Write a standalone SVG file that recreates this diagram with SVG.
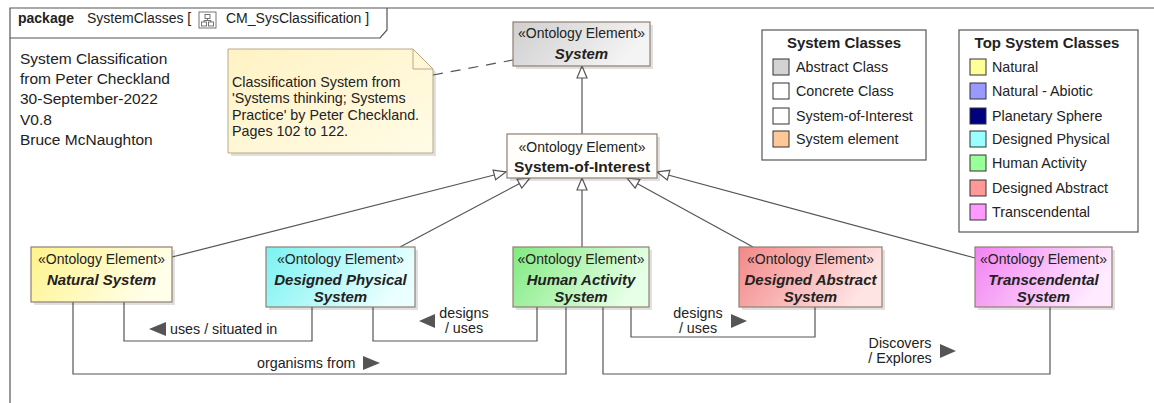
<svg xmlns="http://www.w3.org/2000/svg" width="1154" height="403" viewBox="0 0 1154 403">
<defs>
<style>
text{font-family:"Liberation Sans",Arial,sans-serif;fill:#222}
.hdr{font-size:14px}
.lt{font-size:15.5px}
.nt{font-size:14.3px}
.st{font-size:14px;text-anchor:middle}
.nm{font-size:15px;font-weight:bold;font-style:italic;text-anchor:middle}
.lg{font-size:14.3px}
.lgt{font-size:15px;font-weight:bold;text-anchor:middle}
.lb{font-size:14.3px}
.node{stroke:#8f7f70;stroke-width:1.2}
.shadow{fill:#000;opacity:0.12}
.edge{fill:none;stroke:#555;stroke-width:1.2}
.sw{stroke:#333;stroke-width:1}
.tri{fill:#555}
</style>
<linearGradient id="gSys" x1="0" y1="0" x2="1" y2="0.3"><stop offset="0" stop-color="#cfcfcf"/><stop offset="1" stop-color="#f4f4f4"/></linearGradient>
<linearGradient id="gNat" x1="0" y1="0" x2="1" y2="0.3"><stop offset="0" stop-color="#fff38a"/><stop offset="1" stop-color="#ffffea"/></linearGradient>
<linearGradient id="gDP" x1="0" y1="0" x2="1" y2="0.3"><stop offset="0" stop-color="#7af2f2"/><stop offset="1" stop-color="#eaffff"/></linearGradient>
<linearGradient id="gHA" x1="0" y1="0" x2="1" y2="0.3"><stop offset="0" stop-color="#80ea80"/><stop offset="1" stop-color="#e6ffe6"/></linearGradient>
<linearGradient id="gDA" x1="0" y1="0" x2="1" y2="0.3"><stop offset="0" stop-color="#f38888"/><stop offset="1" stop-color="#ffe4e4"/></linearGradient>
<linearGradient id="gTr" x1="0" y1="0" x2="1" y2="0.3"><stop offset="0" stop-color="#f282f2"/><stop offset="1" stop-color="#ffeaff"/></linearGradient>
<linearGradient id="gNote" x1="0" y1="0" x2="1" y2="1"><stop offset="0" stop-color="#fff3c4"/><stop offset="1" stop-color="#fffbe6"/></linearGradient>
<marker id="gen" viewBox="0 0 14 12" refX="13" refY="6" markerWidth="14" markerHeight="12" markerUnits="userSpaceOnUse" orient="auto">
<path d="M1,1 L13,6 L1,11 Z" fill="#fff" stroke="#555" stroke-width="1.2"/>
</marker>
</defs>
<rect width="1154" height="403" fill="#fff"/>

<g id="frame">
<path d="M10,403 V8 H1154" fill="none" stroke="#555" stroke-width="1.2"/>
<path d="M10,38 H380 L387,30 V8" fill="none" stroke="#555" stroke-width="1.2"/>
<text x="18" y="23" class="hdr" font-weight="bold">package</text>
<text x="87" y="23" class="hdr">SystemClasses [</text>
<g id="icon" fill="#fff" stroke="#666" stroke-width="0.9">
<rect x="199" y="12" width="17" height="16"/>
<rect x="205" y="14.5" width="5" height="4"/>
<rect x="201.5" y="22" width="5" height="4"/>
<rect x="208.5" y="22" width="5" height="4"/>
<path d="M207.5,18.5 V20.5 M204,22 V20.5 H211 V22" fill="none"/>
</g>
<text x="226" y="23" class="hdr">CM_SysClassification ]</text>
</g>

<g id="info">
<text class="lt" x="20" y="64">System Classification</text>
<text class="lt" x="20" y="84">from Peter Checkland</text>
<text class="lt" x="20" y="104">30-September-2022</text>
<text class="lt" x="20" y="124.5">V0.8</text>
<text class="lt" x="20" y="144.5">Bruce McNaughton</text>
</g>

<g id="note">
<path class="shadow" d="M231,52 H416 L436,72 V156 H231 Z"/>
<path d="M228,49 H413 L433,69 V153 H228 Z" fill="url(#gNote)" stroke="#b8a888" stroke-width="1"/>
<path d="M413,49 V69 H433" fill="none" stroke="#b8a888" stroke-width="1"/>
<text class="nt" x="232" y="87">Classification System from</text>
<text class="nt" x="232" y="103">'Systems thinking; Systems</text>
<text class="nt" x="232" y="120">Practice' by Peter Checkland.</text>
<text class="nt" x="232" y="135.5">Pages 102 to 122.</text>
</g>

<g id="connectors">
<path class="edge" d="M433,75 L513,60" stroke-dasharray="10,8"/>
<path class="edge" d="M582,134 V66" marker-end="url(#gen)"/>
<path class="edge" d="M172,257 L506,172" marker-end="url(#gen)"/>
<path class="edge" d="M400,247 L530,178" marker-end="url(#gen)"/>
<path class="edge" d="M582,247 V178" marker-end="url(#gen)"/>
<path class="edge" d="M753,247 L627,178" marker-end="url(#gen)"/>
<path class="edge" d="M975,258 L657,172" marker-end="url(#gen)"/>

<path class="edge" d="M124,302 V341 H312 V307"/>
<path class="tri" d="M149,329 L166,322 V336 Z"/>
<text class="lb" x="170" y="334">uses / situated in</text>

<path class="edge" d="M373,307 V341 H537 V307"/>
<path class="tri" d="M419,321 L435,314 V328 Z"/>
<text class="lb" x="464" y="318" text-anchor="middle">designs</text>
<text class="lb" x="464" y="333" text-anchor="middle">/ uses</text>

<path class="edge" d="M73,302 V374 H566 V307"/>
<text class="lb" x="257" y="368">organisms from</text>
<path class="tri" d="M380,363 L363,356 V370 Z"/>

<path class="edge" d="M631,307 V337 H815 V307"/>
<text class="lb" x="698" y="318" text-anchor="middle">designs</text>
<text class="lb" x="698" y="333" text-anchor="middle">/ uses</text>
<path class="tri" d="M747,321 L731,314 V328 Z"/>

<path class="edge" d="M603,307 V374 H1050 V307"/>
<text class="lb" x="900" y="348" text-anchor="middle">Discovers</text>
<text class="lb" x="900" y="363" text-anchor="middle">/ Explores</text>
<path class="tri" d="M956,351 L940,344 V358 Z"/>
</g>

<g id="System">
<rect class="shadow" x="516" y="25" width="137" height="44"/>
<rect class="node" x="513" y="22" width="137" height="44" fill="url(#gSys)"/>
<text class="st" x="581.5" y="38">«Ontology Element»</text>
<text class="nm" x="581.5" y="58.5">System</text>
</g>

<g id="SystemOfInterest">
<rect class="shadow" x="510" y="137" width="150" height="44"/>
<rect class="node" x="507" y="134" width="150" height="44" fill="#fffefa"/>
<text class="st" x="582" y="152">«Ontology Element»</text>
<text x="582" y="171.5" font-size="15.5" font-weight="bold" text-anchor="middle">System-of-Interest</text>
</g>

<g id="NaturalSystem">
<rect class="shadow" x="34" y="250" width="141" height="55"/>
<rect class="node" x="31" y="247" width="141" height="55" fill="url(#gNat)"/>
<text class="st" x="101.5" y="264">«Ontology Element»</text>
<text class="nm" x="101.5" y="284.5">Natural System</text>
</g>

<g id="DesignedPhysicalSystem">
<rect class="shadow" x="269" y="250" width="149" height="60"/>
<rect class="node" x="266" y="247" width="149" height="60" fill="url(#gDP)"/>
<text class="st" x="340.5" y="264">«Ontology Element»</text>
<text class="nm" x="340.5" y="284.5">Designed Physical</text>
<text class="nm" x="340.5" y="301.5">System</text>
</g>

<g id="HumanActivitySystem">
<rect class="shadow" x="516" y="250" width="136" height="60"/>
<rect class="node" x="513" y="247" width="136" height="60" fill="url(#gHA)"/>
<text class="st" x="581" y="264">«Ontology Element»</text>
<text class="nm" x="581" y="284.5">Human Activity</text>
<text class="nm" x="581" y="301.5">System</text>
</g>

<g id="DesignedAbstractSystem">
<rect class="shadow" x="742" y="250" width="143" height="60"/>
<rect class="node" x="739" y="247" width="143" height="60" fill="url(#gDA)"/>
<text class="st" x="810.5" y="264">«Ontology Element»</text>
<text class="nm" x="810.5" y="284.5">Designed Abstract</text>
<text class="nm" x="810.5" y="301.5">System</text>
</g>

<g id="TranscendentalSystem">
<rect class="shadow" x="978" y="250" width="137" height="60"/>
<rect class="node" x="975" y="247" width="137" height="60" fill="url(#gTr)"/>
<text class="st" x="1043.5" y="264">«Ontology Element»</text>
<text class="nm" x="1043.5" y="284.5">Transcendental</text>
<text class="nm" x="1043.5" y="301.5">System</text>
</g>

<g id="LegendSystemClasses">
<rect x="762" y="30" width="164" height="130" fill="#fff" stroke="#555" stroke-width="1.2"/>
<text class="lgt" x="844" y="48">System Classes</text>
<rect class="sw" x="773" y="59" width="16" height="16" fill="#d3d3d3"/>
<text class="lg" x="796" y="72">Abstract Class</text>
<rect class="sw" x="773" y="83" width="16" height="16" fill="#fff"/>
<text class="lg" x="796" y="96">Concrete Class</text>
<rect class="sw" x="773" y="108" width="16" height="16" fill="#fff"/>
<text class="lg" x="796" y="121">System-of-Interest</text>
<rect class="sw" x="773" y="131" width="16" height="16" fill="#ffc896"/>
<text class="lg" x="796" y="144">System element</text>
</g>

<g id="LegendTopSystemClasses">
<rect x="959" y="30" width="179" height="202" fill="#fff" stroke="#555" stroke-width="1.2"/>
<text class="lgt" x="1047" y="48">Top System Classes</text>
<rect class="sw" x="970" y="59" width="16" height="16" fill="#ffff99"/>
<text class="lg" x="992" y="72">Natural</text>
<rect class="sw" x="970" y="83" width="16" height="16" fill="#9999ff"/>
<text class="lg" x="992" y="96">Natural - Abiotic</text>
<rect class="sw" x="970" y="108" width="16" height="16" fill="#000080"/>
<text class="lg" x="992" y="121">Planetary Sphere</text>
<rect class="sw" x="970" y="131" width="16" height="16" fill="#99ffff"/>
<text class="lg" x="992" y="144">Designed Physical</text>
<rect class="sw" x="970" y="155" width="16" height="16" fill="#99ff99"/>
<text class="lg" x="992" y="168">Human Activity</text>
<rect class="sw" x="970" y="180" width="16" height="16" fill="#ff9999"/>
<text class="lg" x="992" y="193">Designed Abstract</text>
<rect class="sw" x="970" y="204" width="16" height="16" fill="#ff99ff"/>
<text class="lg" x="992" y="217">Transcendental</text>
</g>
</svg>
